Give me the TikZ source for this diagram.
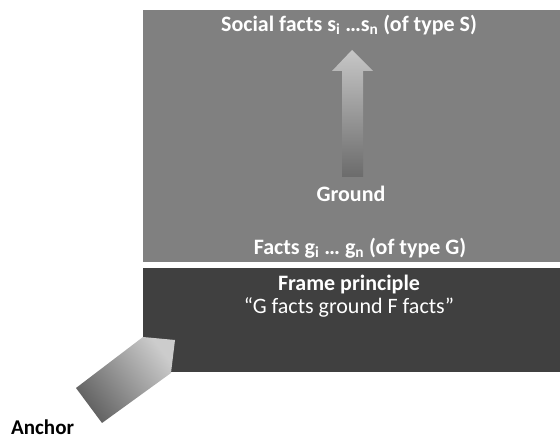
\documentclass[tikz,border=0pt]{standalone}
\usepackage{fontspec}
\setmainfont{Carlito}
\begin{document}
\begin{tikzpicture}[x=1pt,y=1pt,
  lbl/.style={text=white,font=\fontsize{22}{26}\selectfont\bfseries,inner sep=0pt},
  lblr/.style={text=white,font=\fontsize{22}{26}\selectfont,inner sep=0pt}]
\useasboundingbox (0,0) rectangle (560,441);
\definecolor{boxgray}{HTML}{808080}
\definecolor{boxdark}{HTML}{404040}
% boxes
\node[fill=boxgray,minimum width=417pt,minimum height=252pt,inner sep=0pt,anchor=north west] (upper) at (143,431) {};
\node[fill=boxdark,minimum width=417pt,minimum height=104pt,inner sep=0pt,anchor=north west] (frame) at (143,173) {};
% ground arrow
\shade[top color=black!22,bottom color=black!58]
  (342,264) -- (342,370) -- (332,370) -- (352,391) -- (373,370) -- (363,370) -- (363,264) -- cycle;
% anchor arrow
\shade[top color=black!20,bottom color=black!62,shading angle=-52]
  (102,18) -- (76,53) -- (143,104) -- (175,101) -- (171,68) -- cycle;
% texts
\node[lbl] (social) at (349,416) {Social facts s\textsubscript{i} \dots s\textsubscript{n} (of type S)};
\node[lbl] (ground) at (351,247) {Ground};
\node[lbl] (facts) at (360,193) {Facts g\textsubscript{i} \dots{} g\textsubscript{n} (of type G)};
\node[lbl] (fp) at (349,156) {Frame principle};
\node[lblr] (quote) at (349,134) {“G facts ground F facts”};
\node[font=\fontsize{21}{25}\selectfont\bfseries,inner sep=0pt,anchor=west] (anchor) at (11,14) {Anchor};
\end{tikzpicture}
\end{document}
